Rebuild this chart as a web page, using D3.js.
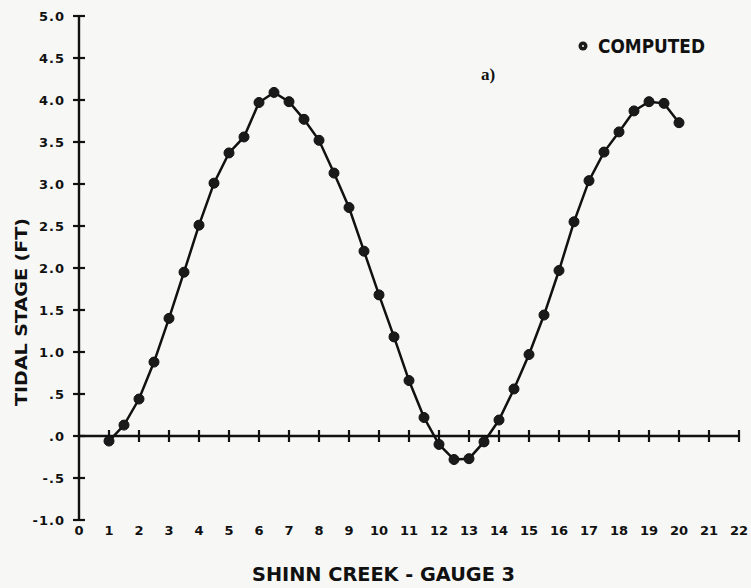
<!DOCTYPE html>
<html><head><meta charset="utf-8">
<script src="https://cdn.jsdelivr.net/npm/d3@7"></script>
<style>
html,body{margin:0;padding:0;background:#f7f7f5;}
svg{display:block;}
text{font-family:"DejaVu Sans",sans-serif;font-weight:bold;fill:#111;}
</style></head>
<body>
<script>
const xValues = [1,1.5,2,2.5,3,3.5,4,4.5,5,5.5,6,6.5,7,7.5,8,8.5,9,9.5,10,10.5,11,11.5,12,12.5,13,13.5,14,14.5,15,15.5,16,16.5,17,17.5,18,18.5,19,19.5,20];
const computed = [-0.06,0.13,0.44,0.88,1.40,1.95,2.51,3.01,3.37,3.56,3.97,4.09,3.98,3.77,3.52,3.13,2.72,2.20,1.68,1.18,0.66,0.22,-0.10,-0.28,-0.27,-0.07,0.19,0.56,0.97,1.44,1.97,2.55,3.04,3.38,3.62,3.87,3.98,3.96,3.73];
const xTicks = d3.range(0,23);
const xTickLabels = xTicks.map(String);
const yTicks = [5.0,4.5,4.0,3.5,3.0,2.5,2.0,1.5,1.0,0.5,0.0,-0.5,-1.0];
const yTickLabels = ["5.0","4.5","4.0","3.5","3.0","2.5","2.0","1.5","1.0",".5",".0","-.5","-1.0"];
const xTitle = "SHINN CREEK - GAUGE 3";
const yTitle = "TIDAL STAGE (FT)";
const legendLabel = "COMPUTED";
const panelLabel = "a)";

const W=751,H=588;
const svg=d3.select("body").append("svg").attr("width",W).attr("height",H);
const x=d3.scaleLinear().domain([0,22]).range([79,739]);
const y=d3.scaleLinear().domain([-1,5]).range([520,16]);
const ink="#111";

svg.append("line").attr("x1",x(0)).attr("x2",x(0)).attr("y1",y(5)).attr("y2",y(-1))
  .attr("stroke",ink).attr("stroke-width",2.4);
svg.append("g").selectAll("line").data(yTicks).join("line")
  .attr("x1",x(0)-6).attr("x2",x(0)+6).attr("y1",d=>y(d)).attr("y2",d=>y(d))
  .attr("stroke",ink).attr("stroke-width",2.2);
svg.append("g").selectAll("text").data(yTicks).join("text")
  .attr("x",x(0)-14).attr("y",d=>y(d)+5).attr("text-anchor","end")
  .attr("font-size",13).attr("letter-spacing",1).text((d,i)=>yTickLabels[i]);

svg.append("line").attr("x1",x(0)).attr("x2",x(22)).attr("y1",y(0)).attr("y2",y(0))
  .attr("stroke",ink).attr("stroke-width",2.4);
svg.append("g").selectAll("line").data(xTicks.slice(1)).join("line")
  .attr("x1",d=>x(d)).attr("x2",d=>x(d)).attr("y1",y(0)-6).attr("y2",y(0)+6)
  .attr("stroke",ink).attr("stroke-width",2.2);
svg.append("g").selectAll("text").data(xTicks).join("text")
  .attr("x",d=>x(d)).attr("y",535).attr("text-anchor","middle")
  .attr("font-size",13).text((d,i)=>xTickLabels[i]);

svg.append("text").attr("x",252).attr("y",581)
  .attr("font-size",19).attr("textLength",263).attr("lengthAdjust","spacingAndGlyphs").text(xTitle);
svg.append("text").attr("transform","translate(27,312) rotate(-90)").attr("text-anchor","middle")
  .attr("font-size",16).attr("textLength",188).attr("lengthAdjust","spacingAndGlyphs").text(yTitle);

const line=d3.line().x((d,i)=>x(xValues[i])).y(d=>y(d));
svg.append("path").datum(computed).attr("d",line).attr("fill","none")
  .attr("stroke",ink).attr("stroke-width",2.5);
svg.append("g").selectAll("circle").data(computed).join("circle")
  .attr("cx",(d,i)=>x(xValues[i])).attr("cy",d=>y(d)).attr("r",5)
  .attr("fill","#1a1a1a").attr("stroke",ink).attr("stroke-width",1);

svg.append("circle").attr("cx",583).attr("cy",46).attr("r",4.5).attr("fill","#1a1a1a");
svg.append("circle").attr("cx",583).attr("cy",46).attr("r",1).attr("fill","#f7f7f5");
svg.append("text").attr("x",598).attr("y",53).attr("font-size",19)
  .attr("textLength",107).attr("lengthAdjust","spacingAndGlyphs").text(legendLabel);
svg.append("text").attr("x",481).attr("y",80).attr("font-size",17)
  .style("font-family","'Liberation Serif',serif").text(panelLabel);
</script>
</body></html>
